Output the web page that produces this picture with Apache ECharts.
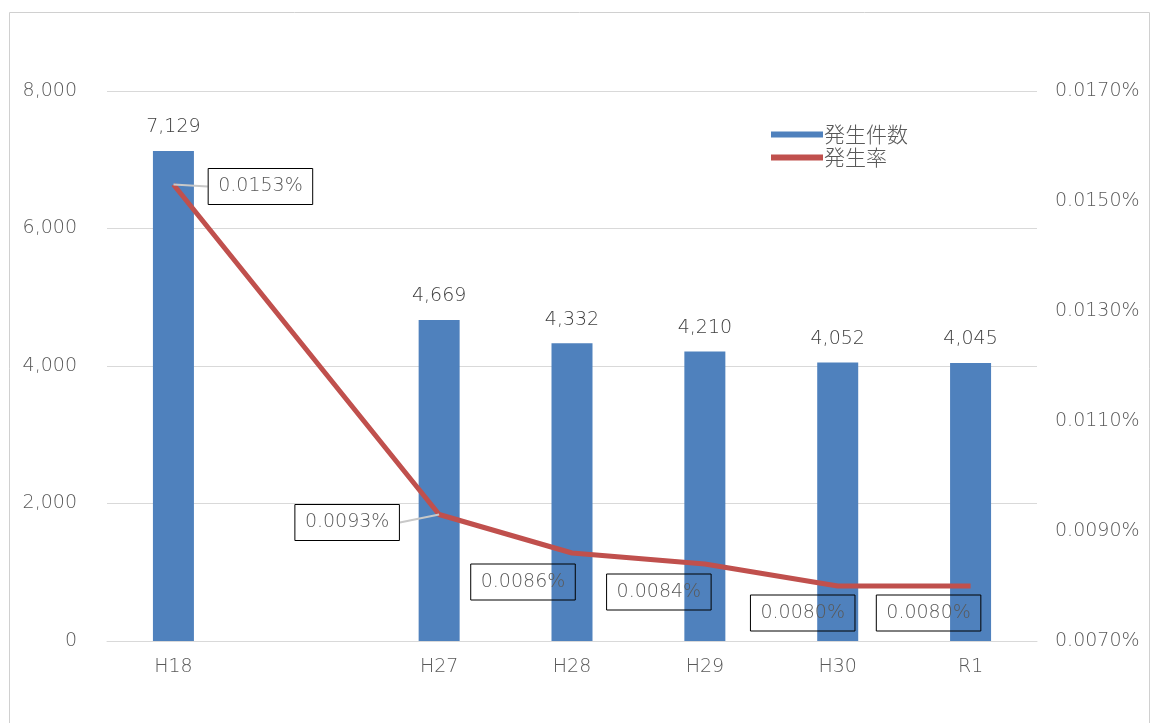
<!DOCTYPE html>
<html>
<head>
<meta charset="utf-8">
<script src="https://cdn.jsdelivr.net/npm/echarts@6/dist/echarts.min.js"></script>
<style>
  html, body { margin: 0; padding: 0; background: #fff; }
  #chart { width: 1154px; height: 723px; }
</style>
</head>
<body>
<div id="chart"></div>
<script>
// Fiscal years; the blank slot keeps the gap between H18 and H27
const categories = ['H18', '', 'H27', 'H28', 'H29', 'H30', 'R1'];
// Number of incidents (発生件数)
const counts = [7129, null, 4669, 4332, 4210, 4052, 4045];
// Incidence rate in percent (発生率)
const rates = [0.0153, null, 0.0093, 0.0086, 0.0084, 0.0080, 0.0080];

// Where each rate label box sits relative to its point
const rateLabelShift = [[87, 2], null, [-92, 8], [-49, 29], [-46, 28], [-35, 27], [-42, 27]];
const rateLeader = [true, false, true, false, false, false, false];

const textColor = '#595959';
const numFont = '"DejaVu Sans", sans-serif';
const cjkFont = '"Noto Sans CJK JP", sans-serif';

const chart = echarts.init(document.getElementById('chart'));

const fmtCount = v => v.toLocaleString('en-US');

chart.setOption({
  backgroundColor: '#fff',
  animation: false,
  textStyle: { fontFamily: numFont },
  graphic: [{
    type: 'rect',
    shape: { x: 9.5, y: 12.5, width: 1140, height: 730 },
    style: { fill: 'none', stroke: '#d0d0d0', lineWidth: 1 },
    silent: true
  }],
  legend: {
    orient: 'vertical',
    left: 766,
    top: 118,
    itemWidth: 52,
    itemHeight: 6,
    itemGap: 0,
    textStyle: { color: textColor, fontSize: 21, fontWeight: 300, fontFamily: cjkFont, padding: [0, 0, 0, -4], lineHeight: 23 },
    data: [
      { name: '発生件数', icon: 'rect' },
      { name: '発生率', icon: 'rect', itemStyle: { color: '#C0504D' } }
    ]
  },
  grid: { left: 107, right: 117, top: 91, bottom: 82, containLabel: false },
  xAxis: {
    type: 'category',
    data: categories,
    axisTick: { show: false },
    axisLine: { lineStyle: { color: '#d9d9d9' } },
    axisLabel: { color: textColor, fontSize: 19, fontWeight: 200, margin: 17, fontFamily: numFont }
  },
  yAxis: [{
    type: 'value',
    min: 0,
    max: 8000,
    interval: 2000,
    axisLine: { show: false },
    axisTick: { show: false },
    splitLine: { lineStyle: { color: '#d9d9d9' } },
    axisLabel: {
      color: textColor, fontSize: 19, fontWeight: 200, margin: 30, fontFamily: numFont,
      formatter: v => fmtCount(v)
    }
  }, {
    type: 'value',
    min: 0.0070,
    max: 0.0170,
    interval: 0.0020,
    axisLine: { show: false },
    axisTick: { show: false },
    splitLine: { show: false },
    axisLabel: {
      color: textColor, fontSize: 19, fontWeight: 200, margin: 18, fontFamily: numFont,
      formatter: v => v.toFixed(4) + '%'
    }
  }],
  series: [{
    name: '発生件数',
    type: 'bar',
    yAxisIndex: 0,
    barWidth: 41,
    itemStyle: { color: '#4F81BD' },
    data: counts,
    label: {
      show: true,
      position: 'top',
      distance: 14,
      color: '#404040',
      fontSize: 19,
      fontWeight: 200,
      fontFamily: numFont,
      formatter: p => fmtCount(p.value)
    },
    z: 2
  }, {
    name: '発生率',
    type: 'line',
    yAxisIndex: 1,
    connectNulls: true,
    symbol: 'circle',
    symbolSize: 0.1,
    showSymbol: true,
    lineStyle: { color: '#C0504D', width: 5 },
    itemStyle: { color: '#C0504D' },
    data: rates.map((v, i) => v === null ? null : {
      value: v,
      labelLine: { show: rateLeader[i], lineStyle: { color: '#c8c8c8', width: 2 } }
    }),
    label: {
      show: true,
      position: 'inside',
      color: textColor,
      fontSize: 19,
      fontWeight: 200,
      fontFamily: numFont,
      borderColor: '#000',
      borderWidth: 1,
      padding: [9, 10, 8, 10],
      formatter: p => p.value.toFixed(4) + '%'
    },
    labelLayout: params => {
      const s = rateLabelShift[params.dataIndex] || [0, 0];
      return { dx: s[0], dy: s[1] };
    },
    z: 3
  }]
});
</script>
</body>
</html>
